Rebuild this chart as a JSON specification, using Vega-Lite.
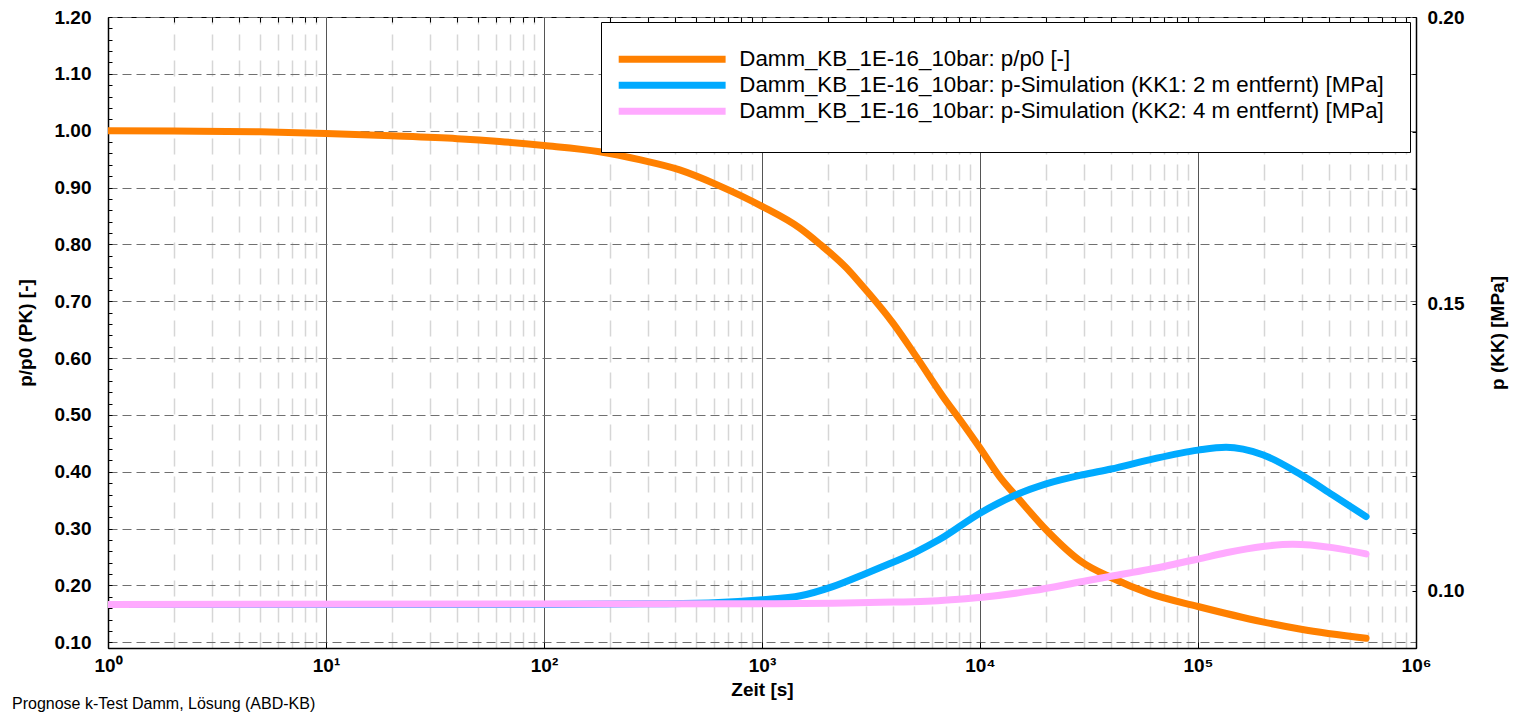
{
  "$schema": "https://vega.github.io/schema/vega-lite/v6.json",
  "autosize": {"type": "none"},
  "padding": {"left": 108, "top": 17, "right": 98, "bottom": 65},
  "width": 1308,
  "height": 631,
  "background": "white",
  "title": {"text": "Prognose k-Test Damm, Lösung (ABD-KB)", "orient": "bottom", "anchor": "start", "frame": "group", "dx": -96, "offset": -3, "fontSize": 16, "fontWeight": "normal", "font": "Liberation Sans", "color": "black"},
  "config": {
    "view": {"stroke": "#000", "strokeWidth": 1},
    "axis": {"labelFont": "Liberation Sans", "labelFontWeight": "bold", "labelFontSize": 19, "labelColor": "#000", "titleFont": "Liberation Sans", "titleFontWeight": "bold", "titleFontSize": 19, "titleColor": "#000", "domainColor": "#000", "tickColor": "#000"}
  },
  "datasets": {
    "pk": [
      {"t": 1, "v": 1.0, "s": "Damm_KB_1E-16_10bar: p/p0 [-]"},
      {"t": 2, "v": 0.9995, "s": "Damm_KB_1E-16_10bar: p/p0 [-]"},
      {"t": 5, "v": 0.998, "s": "Damm_KB_1E-16_10bar: p/p0 [-]"},
      {"t": 10, "v": 0.995, "s": "Damm_KB_1E-16_10bar: p/p0 [-]"},
      {"t": 20, "v": 0.991, "s": "Damm_KB_1E-16_10bar: p/p0 [-]"},
      {"t": 40, "v": 0.986, "s": "Damm_KB_1E-16_10bar: p/p0 [-]"},
      {"t": 62.5, "v": 0.981, "s": "Damm_KB_1E-16_10bar: p/p0 [-]"},
      {"t": 100, "v": 0.974, "s": "Damm_KB_1E-16_10bar: p/p0 [-]"},
      {"t": 180, "v": 0.963, "s": "Damm_KB_1E-16_10bar: p/p0 [-]"},
      {"t": 274, "v": 0.949, "s": "Damm_KB_1E-16_10bar: p/p0 [-]"},
      {"t": 419, "v": 0.931, "s": "Damm_KB_1E-16_10bar: p/p0 [-]"},
      {"t": 638, "v": 0.903, "s": "Damm_KB_1E-16_10bar: p/p0 [-]"},
      {"t": 1000, "v": 0.867, "s": "Damm_KB_1E-16_10bar: p/p0 [-]"},
      {"t": 1486, "v": 0.829, "s": "Damm_KB_1E-16_10bar: p/p0 [-]"},
      {"t": 1835, "v": 0.801, "s": "Damm_KB_1E-16_10bar: p/p0 [-]"},
      {"t": 2432, "v": 0.759, "s": "Damm_KB_1E-16_10bar: p/p0 [-]"},
      {"t": 2799, "v": 0.733, "s": "Damm_KB_1E-16_10bar: p/p0 [-]"},
      {"t": 3981, "v": 0.662, "s": "Damm_KB_1E-16_10bar: p/p0 [-]"},
      {"t": 5093, "v": 0.603, "s": "Damm_KB_1E-16_10bar: p/p0 [-]"},
      {"t": 6745, "v": 0.533, "s": "Damm_KB_1E-16_10bar: p/p0 [-]"},
      {"t": 8330, "v": 0.485, "s": "Damm_KB_1E-16_10bar: p/p0 [-]"},
      {"t": 10000, "v": 0.442, "s": "Damm_KB_1E-16_10bar: p/p0 [-]"},
      {"t": 12270, "v": 0.392, "s": "Damm_KB_1E-16_10bar: p/p0 [-]"},
      {"t": 15150, "v": 0.351, "s": "Damm_KB_1E-16_10bar: p/p0 [-]"},
      {"t": 20100, "v": 0.298, "s": "Damm_KB_1E-16_10bar: p/p0 [-]"},
      {"t": 29600, "v": 0.240, "s": "Damm_KB_1E-16_10bar: p/p0 [-]"},
      {"t": 39900, "v": 0.214, "s": "Damm_KB_1E-16_10bar: p/p0 [-]"},
      {"t": 59800, "v": 0.186, "s": "Damm_KB_1E-16_10bar: p/p0 [-]"},
      {"t": 100000, "v": 0.163, "s": "Damm_KB_1E-16_10bar: p/p0 [-]"},
      {"t": 198000, "v": 0.136, "s": "Damm_KB_1E-16_10bar: p/p0 [-]"},
      {"t": 297000, "v": 0.123, "s": "Damm_KB_1E-16_10bar: p/p0 [-]"},
      {"t": 590000, "v": 0.107, "s": "Damm_KB_1E-16_10bar: p/p0 [-]"}
    ],
    "kk": [
      {"t": 1, "v": 0.0976, "s": "Damm_KB_1E-16_10bar: p-Simulation (KK1: 2 m entfernt) [MPa]"},
      {"t": 100, "v": 0.0976, "s": "Damm_KB_1E-16_10bar: p-Simulation (KK1: 2 m entfernt) [MPa]"},
      {"t": 300, "v": 0.0977, "s": "Damm_KB_1E-16_10bar: p-Simulation (KK1: 2 m entfernt) [MPa]"},
      {"t": 600, "v": 0.0979, "s": "Damm_KB_1E-16_10bar: p-Simulation (KK1: 2 m entfernt) [MPa]"},
      {"t": 1000, "v": 0.0984, "s": "Damm_KB_1E-16_10bar: p-Simulation (KK1: 2 m entfernt) [MPa]"},
      {"t": 1500, "v": 0.0991, "s": "Damm_KB_1E-16_10bar: p-Simulation (KK1: 2 m entfernt) [MPa]"},
      {"t": 2110, "v": 0.1007, "s": "Damm_KB_1E-16_10bar: p-Simulation (KK1: 2 m entfernt) [MPa]"},
      {"t": 3000, "v": 0.1030, "s": "Damm_KB_1E-16_10bar: p-Simulation (KK1: 2 m entfernt) [MPa]"},
      {"t": 3580, "v": 0.1042, "s": "Damm_KB_1E-16_10bar: p-Simulation (KK1: 2 m entfernt) [MPa]"},
      {"t": 5000, "v": 0.1066, "s": "Damm_KB_1E-16_10bar: p-Simulation (KK1: 2 m entfernt) [MPa]"},
      {"t": 6510, "v": 0.1089, "s": "Damm_KB_1E-16_10bar: p-Simulation (KK1: 2 m entfernt) [MPa]"},
      {"t": 10000, "v": 0.1135, "s": "Damm_KB_1E-16_10bar: p-Simulation (KK1: 2 m entfernt) [MPa]"},
      {"t": 14650, "v": 0.1167, "s": "Damm_KB_1E-16_10bar: p-Simulation (KK1: 2 m entfernt) [MPa]"},
      {"t": 20100, "v": 0.1186, "s": "Damm_KB_1E-16_10bar: p-Simulation (KK1: 2 m entfernt) [MPa]"},
      {"t": 29600, "v": 0.1202, "s": "Damm_KB_1E-16_10bar: p-Simulation (KK1: 2 m entfernt) [MPa]"},
      {"t": 39900, "v": 0.1212, "s": "Damm_KB_1E-16_10bar: p-Simulation (KK1: 2 m entfernt) [MPa]"},
      {"t": 59800, "v": 0.1228, "s": "Damm_KB_1E-16_10bar: p-Simulation (KK1: 2 m entfernt) [MPa]"},
      {"t": 100000, "v": 0.1245, "s": "Damm_KB_1E-16_10bar: p-Simulation (KK1: 2 m entfernt) [MPa]"},
      {"t": 134500, "v": 0.1250, "s": "Damm_KB_1E-16_10bar: p-Simulation (KK1: 2 m entfernt) [MPa]"},
      {"t": 198000, "v": 0.1237, "s": "Damm_KB_1E-16_10bar: p-Simulation (KK1: 2 m entfernt) [MPa]"},
      {"t": 297000, "v": 0.1202, "s": "Damm_KB_1E-16_10bar: p-Simulation (KK1: 2 m entfernt) [MPa]"},
      {"t": 414000, "v": 0.1167, "s": "Damm_KB_1E-16_10bar: p-Simulation (KK1: 2 m entfernt) [MPa]"},
      {"t": 590000, "v": 0.1129, "s": "Damm_KB_1E-16_10bar: p-Simulation (KK1: 2 m entfernt) [MPa]"},
      {"t": 1, "v": 0.0976, "s": "Damm_KB_1E-16_10bar: p-Simulation (KK2: 4 m entfernt) [MPa]"},
      {"t": 1000, "v": 0.0977, "s": "Damm_KB_1E-16_10bar: p-Simulation (KK2: 4 m entfernt) [MPa]"},
      {"t": 2110, "v": 0.0978, "s": "Damm_KB_1E-16_10bar: p-Simulation (KK2: 4 m entfernt) [MPa]"},
      {"t": 4000, "v": 0.0980, "s": "Damm_KB_1E-16_10bar: p-Simulation (KK2: 4 m entfernt) [MPa]"},
      {"t": 6070, "v": 0.0982, "s": "Damm_KB_1E-16_10bar: p-Simulation (KK2: 4 m entfernt) [MPa]"},
      {"t": 8000, "v": 0.0985, "s": "Damm_KB_1E-16_10bar: p-Simulation (KK2: 4 m entfernt) [MPa]"},
      {"t": 10000, "v": 0.0988, "s": "Damm_KB_1E-16_10bar: p-Simulation (KK2: 4 m entfernt) [MPa]"},
      {"t": 17500, "v": 0.1000, "s": "Damm_KB_1E-16_10bar: p-Simulation (KK2: 4 m entfernt) [MPa]"},
      {"t": 29600, "v": 0.1016, "s": "Damm_KB_1E-16_10bar: p-Simulation (KK2: 4 m entfernt) [MPa]"},
      {"t": 39900, "v": 0.1025, "s": "Damm_KB_1E-16_10bar: p-Simulation (KK2: 4 m entfernt) [MPa]"},
      {"t": 59800, "v": 0.1037, "s": "Damm_KB_1E-16_10bar: p-Simulation (KK2: 4 m entfernt) [MPa]"},
      {"t": 100000, "v": 0.1055, "s": "Damm_KB_1E-16_10bar: p-Simulation (KK2: 4 m entfernt) [MPa]"},
      {"t": 134500, "v": 0.1066, "s": "Damm_KB_1E-16_10bar: p-Simulation (KK2: 4 m entfernt) [MPa]"},
      {"t": 198000, "v": 0.1077, "s": "Damm_KB_1E-16_10bar: p-Simulation (KK2: 4 m entfernt) [MPa]"},
      {"t": 272000, "v": 0.1081, "s": "Damm_KB_1E-16_10bar: p-Simulation (KK2: 4 m entfernt) [MPa]"},
      {"t": 414000, "v": 0.1075, "s": "Damm_KB_1E-16_10bar: p-Simulation (KK2: 4 m entfernt) [MPa]"},
      {"t": 590000, "v": 0.1064, "s": "Damm_KB_1E-16_10bar: p-Simulation (KK2: 4 m entfernt) [MPa]"}
    ]
  },
  "layer": [
    {
      "data": {"name": "pk"},
      "mark": {"type": "line", "strokeWidth": 7, "strokeCap": "round", "interpolate": "monotone", "clip": true},
      "encoding": {
        "x": {"field": "t", "type": "quantitative", "scale": {"type": "log", "domain": [1, 1000000], "nice": false},
          "axis": {"values": [1, 10, 100, 1000, 10000, 100000, 1000000], "labelExpr": "'10' + ['⁰','¹','²','³','⁴','⁵','⁶'][round(log(datum.value)/LN10)]", "grid": true, "gridColor": "#555555", "gridWidth": 1, "gridOpacity": 1, "tickSize": -6, "labelPadding": 14, "labelFlush": false, "title": "Zeit [s]", "titlePadding": 5, "domainWidth": 1.5}},
        "y": {"field": "v", "type": "quantitative", "scale": {"domain": [0.09, 1.2], "nice": false, "zero": false},
          "axis": {"orient": "left", "values": [0.1,0.12,0.14,0.16,0.18,0.2,0.22,0.24,0.26,0.28,0.3,0.32,0.34,0.36,0.38,0.4,0.42,0.44,0.46,0.48,0.5,0.52,0.54,0.56,0.58,0.6,0.62,0.64,0.66,0.68,0.7,0.72,0.74,0.76,0.78,0.8,0.82,0.84,0.86,0.88,0.9,0.92,0.94,0.96,0.98,1.0,1.02,1.04,1.06,1.08,1.1,1.12,1.14,1.16,1.18,1.2],
            "labelExpr": "abs(datum.value*10 - round(datum.value*10)) < 0.001 ? format(datum.value, '.2f') : ''",
            "grid": true, "gridColor": "#707070", "gridDash": [9, 5], "gridWidth": 1,
            "gridOpacity": {"condition": {"test": "abs(datum.value*10 - round(datum.value*10)) < 0.001", "value": 1}, "value": 0},
            "tickSize": -4, "labelPadding": 21, "title": "p/p0 (PK)  [-]", "titlePadding": 19, "domainWidth": 1.5}},
        "color": {"field": "s", "type": "nominal",
          "scale": {"domain": ["Damm_KB_1E-16_10bar: p/p0 [-]", "Damm_KB_1E-16_10bar: p-Simulation (KK1: 2 m entfernt) [MPa]", "Damm_KB_1E-16_10bar: p-Simulation (KK2: 4 m entfernt) [MPa]"], "range": ["#FF8000", "#00AAFF", "#FFAAFF"]},
          "legend": {"orient": "none", "legendX": 493, "legendY": 5, "title": null, "direction": "vertical", "fillColor": "white", "strokeColor": "#000", "padding": 26, "labelFontSize": 22.3, "labelFont": "Liberation Sans", "labelColor": "#000", "labelLimit": 900, "symbolType": "M-30,0H30", "symbolStrokeWidth": 7, "symbolSize": 12.7, "symbolOffset": 34, "labelOffset": 56, "rowPadding": -20}}
      }
    },
    {
      "data": {"name": "kk"},
      "mark": {"type": "line", "strokeWidth": 7, "strokeCap": "round", "interpolate": "monotone", "clip": true},
      "encoding": {
        "x": {"field": "t", "type": "quantitative", "scale": {"type": "log", "domain": [1, 1000000], "nice": false},
          "axis": {"values": [2,3,4,5,6,7,8,9,20,30,40,50,60,70,80,90,200,300,400,500,600,700,800,900,2000,3000,4000,5000,6000,7000,8000,9000,20000,30000,40000,50000,60000,70000,80000,90000,200000,300000,400000,500000,600000,700000,800000,900000],
            "labels": false, "grid": true, "gridColor": "#d6d6d6", "gridDash": [16, 10], "gridWidth": 1.5, "tickSize": -5, "domain": false, "title": null}},
        "y": {"field": "v", "type": "quantitative", "scale": {"domain": [0.09, 0.2], "nice": false, "zero": false},
          "axis": {"orient": "right", "values": [0.09,0.1,0.11,0.12,0.13,0.14,0.15,0.16,0.17,0.18,0.19,0.2],
            "labelExpr": "indexof(['0.10','0.15','0.20'], format(datum.value,'.2f')) >= 0 ? format(datum.value,'.2f') : ''",
            "grid": false, "tickSize": -4, "labelPadding": 15, "title": "p (KK)  [MPa]", "titleAngle": 270, "titlePadding": 44, "domainWidth": 1.5}},
        "color": {"field": "s", "type": "nominal"}
      }
    }
  ],
  "resolve": {"scale": {"y": "independent"}, "axis": {"x": "independent"}}
}
